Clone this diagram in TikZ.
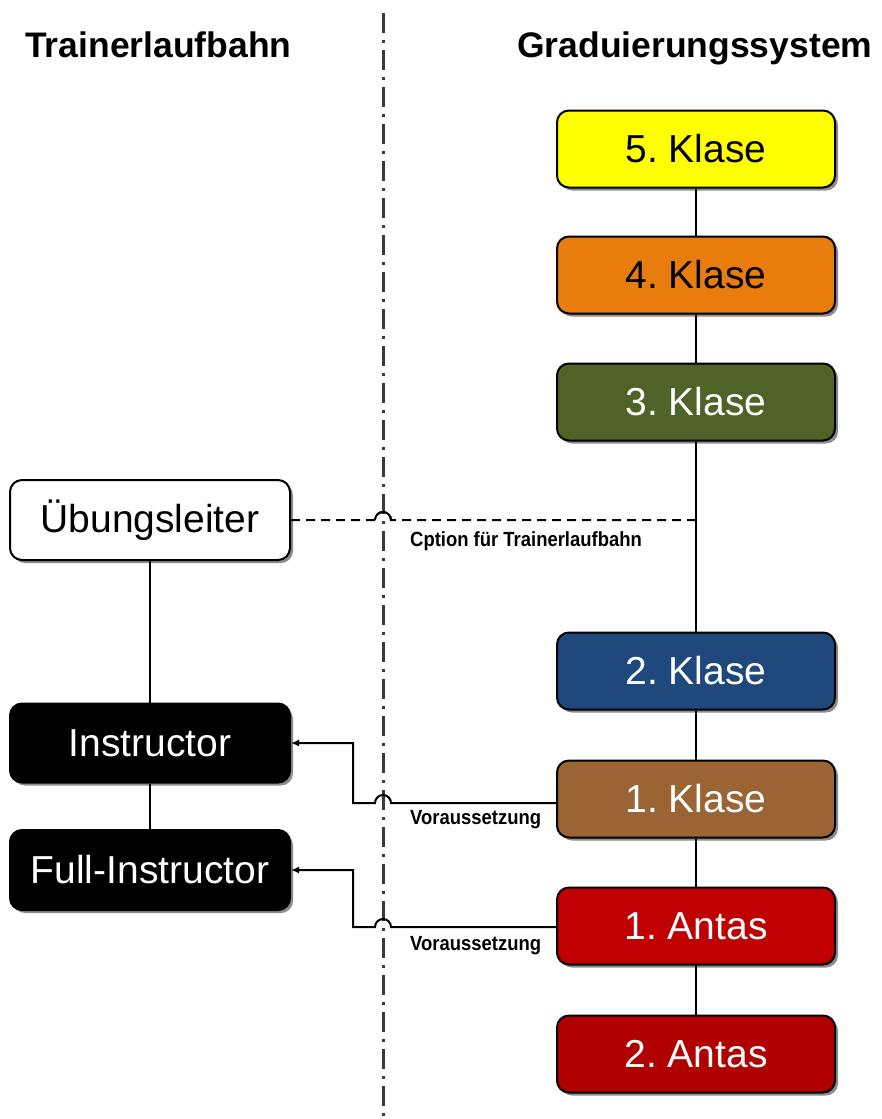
\documentclass[tikz,border=0pt]{standalone}
\usepackage{fontspec}
\setmainfont{Liberation Sans}
\newfontfamily\lblfont[FakeStretch=0.9]{Liberation Sans}
\usetikzlibrary{shadows,arrows.meta}
\definecolor{kyellow}{HTML}{FFFF00}
\definecolor{korange}{RGB}{232,125,13}
\definecolor{kolive}{HTML}{4F6228}
\definecolor{kblue}{HTML}{1F497D}
\definecolor{kbrown}{RGB}{154,100,52}
\definecolor{kred}{HTML}{C00000}
\definecolor{divgray}{HTML}{3A3A3A}
\frenchspacing
\tikzset{
  gradbox/.style={draw=black, line width=2pt, rounded corners=12pt,
    minimum width=278pt, minimum height=77pt, inner sep=0pt,
    font=\frenchspacing\fontsize{39}{44}\selectfont,
    drop shadow={shadow xshift=3pt, shadow yshift=-3pt, fill=black!45, opacity=1}},
  conn/.style={draw=black, line width=2pt},
  optline/.style={draw=black, line width=2pt, dash pattern=on 9pt off 6pt},
  reqarrow/.style={draw=black, line width=2pt, -{Latex[length=8pt,width=7pt]}},
  divider/.style={draw=divgray, line width=3pt, dash pattern=on 20pt off 7pt on 3pt off 7pt},
  titletext/.style={font=\bfseries\fontsize{35.5}{40}\selectfont, inner sep=0pt},
  smalllabel/.style={font=\lblfont\bfseries\fontsize{20.5}{23}\selectfont, inner sep=0pt, anchor=west}
}
\begin{document}
\begin{tikzpicture}[x=1pt,y=1pt]
\useasboundingbox (0,0) rectangle (882,-1119);
% divider
\coordinate (dtop) at (383,-13);
\coordinate (dbot) at (383,-1119);
\draw[divider] (dtop) -- (dbot);
% titles
\node[titletext, anchor=base west] (t1) at (25,-57) {Trainerlaufbahn};
\node[titletext, anchor=base west] (t2) at (517,-57) {Graduierungssystem};
% right column
\node[gradbox, fill=kyellow, text=black] (k5) at (696,-149) {5. Klase};
\node[gradbox, fill=korange, text=black] (k4) at (696,-275) {4. Klase};
\node[gradbox, fill=kolive, text=white] (k3) at (696,-402) {3. Klase};
\node[gradbox, fill=kblue, text=white] (k2) at (696,-671) {2. Klase};
\node[gradbox, fill=kbrown, text=white] (k1) at (696,-799) {1. Klase};
\node[gradbox, fill=kred, text=white] (a1) at (696,-926) {1. Antas};
\node[gradbox, fill=kred!92!black, text=white] (a2) at (696,-1054) {2. Antas};
% left column
\node[gradbox, minimum width=280pt, minimum height=80pt, fill=white, text=black] (ub) at (150,-520) {Übungsleiter};
\node[gradbox, minimum width=280pt, minimum height=79pt, fill=black, text=white] (ins) at (150,-743) {Instructor};
\node[gradbox, minimum width=280pt, minimum height=80pt, fill=black, text=white] (full) at (150,-870) {Full-Instructor};
% vertical connectors
\draw[conn] (k5.south) -- (k4.north);
\draw[conn] (k4.south) -- (k3.north);
\draw[conn] (k3.south) -- (k2.north);
\draw[conn] (k2.south) -- (k1.north);
\draw[conn] (k1.south) -- (a1.north);
\draw[conn] (a1.south) -- (a2.north);
\draw[conn] (ub.south) -- (ins.north);
\draw[conn] (ins.south) -- (full.north);
% option line
\coordinate (oend) at (696,-520);
\coordinate (ohop) at (375,-520);
\draw[optline] (ub.east) -- (ohop) arc (180:0:8) -- (oend);
\draw[conn] (ohop) arc (180:0:8);
\node[smalllabel] (olbl) at (410,-541) {Cption für Trainerlaufbahn};
% requirement arrows
\coordinate (h1) at (391,-803);
\coordinate (b1) at (353,-803);
\draw[reqarrow] (k1.west |- h1) -- (h1) arc (0:180:8) -- (b1) |- (ins.east);
\node[smalllabel] (l1) at (410,-820) {Voraussetzung};
\coordinate (h2) at (391,-927);
\coordinate (b2) at (353,-927);
\draw[reqarrow] (a1.west |- h2) -- (h2) arc (0:180:8) -- (b2) |- (full.east);
\node[smalllabel] (l2) at (410,-946) {Voraussetzung};
\end{tikzpicture}
\end{document}
